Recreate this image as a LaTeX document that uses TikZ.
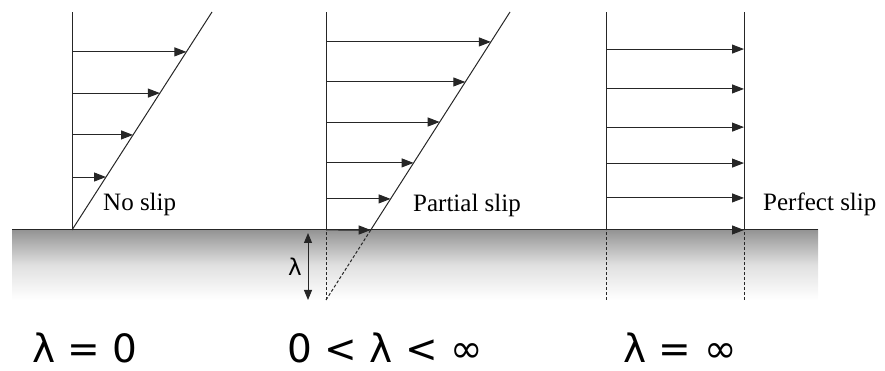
\documentclass[tikz,border=0pt]{standalone}
\usepackage{fontspec}
\setmainfont{Liberation Serif}
\newfontfamily\lamfont{DejaVu Sans}
\usetikzlibrary{positioning,arrows.meta,calc}

\begin{document}
\begin{tikzpicture}[
    x=1pt, y=1pt,
    line/.style={draw=black!85, line width=1pt},
    dashline/.style={line, dash pattern=on 3pt off 2pt},
    vel/.style={line, -{Triangle[length=12pt,width=9pt]}},
    gap/.style={line, {Triangle[length=10pt,width=8pt]}-{Triangle[length=10pt,width=8pt]}},
    slip/.style={font=\fontsize{25}{30}\selectfont, inner sep=0pt, anchor=west},
    case/.style={font=\lamfont\fontsize{39}{46}\selectfont, inner sep=0pt}
]
\useasboundingbox (0,0) rectangle (885,371);

% ground
\shade[top color=black!42, bottom color=white, middle color=black!12] (12,71) rectangle (818,141);
\coordinate (gl) at (12,141);
\coordinate (gr) at (818,141);
\draw[line] (gl) -- (gr);

% no slip
\coordinate (a0) at (72,141);
\coordinate (a1) at (72,359);
\coordinate (a2) at (212,359);
\draw[line] (a0) -- (a1);
\draw[line] (a0) -- (a2);
\draw[vel] ($(a0)!0.817!(a1)$) -- ($(a0)!0.817!(a2)$);
\draw[vel] ($(a0)!0.628!(a1)$) -- ($(a0)!0.628!(a2)$);
\draw[vel] ($(a0)!0.436!(a1)$) -- ($(a0)!0.436!(a2)$);
\draw[vel] ($(a0)!0.243!(a1)$) -- ($(a0)!0.243!(a2)$);
\node[slip] (noslip) at (103,167) {No slip};

% partial slip
\coordinate (b0) at (326,71);
\coordinate (b1) at (326,141);
\coordinate (b2) at (326,359);
\coordinate (b3) at (510,359);
\coordinate (bg) at ($(b0)!0.243!(b3)$);
\draw[line] (b1) -- (b2);
\draw[dashline] (b0) -- (b1);
\draw[line] (bg) -- (b3);
\draw[dashline] (b0) -- (bg);
\draw[vel] ($(b0)!0.896!(b2)$) -- ($(b0)!0.896!(b3)$);
\draw[vel] ($(b0)!0.757!(b2)$) -- ($(b0)!0.757!(b3)$);
\draw[vel] ($(b0)!0.618!(b2)$) -- ($(b0)!0.618!(b3)$);
\draw[vel] ($(b0)!0.476!(b2)$) -- ($(b0)!0.476!(b3)$);
\draw[vel] ($(b0)!0.351!(b2)$) -- ($(b0)!0.351!(b3)$);
\draw[vel] (b1) -- (bg);
\node[slip] (partslip) at (413,166) {Partial slip};

% slip length
\coordinate (l0) at (308,138);
\coordinate (l1) at (308,71);
\draw[gap] (l0) -- (l1);
\node[font=\lamfont\fontsize{23}{26}\selectfont, inner sep=0pt, left=6pt of $(l0)!0.5!(l1)$] (lam) {λ};

% perfect slip
\coordinate (c0) at (606,71);
\coordinate (c1) at (606,141);
\coordinate (c2) at (606,359);
\coordinate (d0) at (744,71);
\coordinate (d1) at (744,141);
\coordinate (d2) at (744,359);
\draw[line] (c1) -- (c2);
\draw[line] (d1) -- (d2);
\draw[dashline] (c0) -- (c1);
\draw[dashline] (d0) -- (d1);
\draw[vel] ($(c1)!0.830!(c2)$) -- ($(d1)!0.830!(d2)$);
\draw[vel] ($(c1)!0.647!(c2)$) -- ($(d1)!0.647!(d2)$);
\draw[vel] ($(c1)!0.472!(c2)$) -- ($(d1)!0.472!(d2)$);
\draw[vel] ($(c1)!0.307!(c2)$) -- ($(d1)!0.307!(d2)$);
\draw[vel] ($(c1)!0.147!(c2)$) -- ($(d1)!0.147!(d2)$);
\draw[vel] (c1) -- (d1);
\node[slip] (perfslip) at (763,167) {Perfect slip};

% cases
\node[case] (case0) at (85,23) {λ = 0};
\node[case] (case1) at (385,23) {0 < λ < ∞};
\node[case] (case2) at (680,23) {λ = ∞};
\end{tikzpicture}
\end{document}
